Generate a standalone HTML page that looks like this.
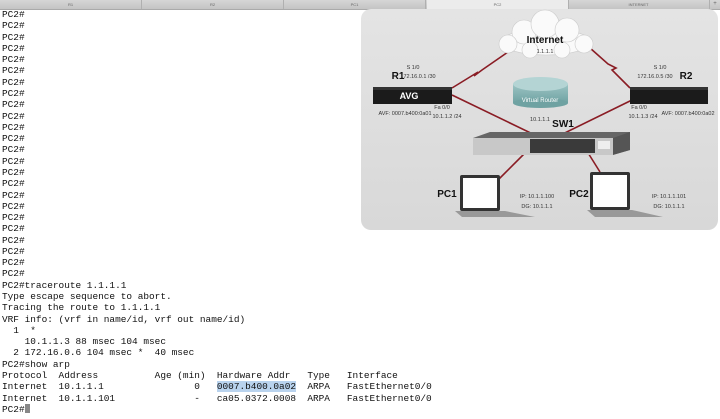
<!DOCTYPE html>
<html><head><meta charset="utf-8"><style>
body{margin:0;width:720px;height:419px;background:#fff;overflow:hidden;position:relative;font-family:"Liberation Sans",sans-serif}
#tabs{position:absolute;left:0;top:0;width:720px;height:9px;background:linear-gradient(#d6d6d6,#c4c4c4);border-bottom:1px solid #aaa}
.tab{position:absolute;top:0;height:9px;width:142px;font-size:4px;color:#666;text-align:center;line-height:9px;border-right:1px solid #b0b0b0;box-sizing:border-box}
#term{position:absolute;left:2px;top:9px;font-family:"Liberation Mono",monospace;font-size:9.43px;line-height:11.28px;white-space:pre;color:#111;margin:0}
.hl{background:#b9d3ee}
.cur{display:inline-block;width:5px;height:9px;background:#888;vertical-align:-1px}
</style></head><body>
<div id="tabs">
<div class="tab" style="left:0">R1</div>
<div class="tab" style="left:142px">R2</div>
<div class="tab" style="left:284px">PC1</div>
<div class="tab" style="left:427px;background:#ececec">PC2</div>
<div class="tab" style="left:568px">INTERNET</div>
<div class="tab" style="left:710px;width:10px;font-size:6px;border:none">+</div>
</div>
<pre id="term">PC2#
PC2#
PC2#
PC2#
PC2#
PC2#
PC2#
PC2#
PC2#
PC2#
PC2#
PC2#
PC2#
PC2#
PC2#
PC2#
PC2#
PC2#
PC2#
PC2#
PC2#
PC2#
PC2#
PC2#
PC2#traceroute 1.1.1.1
Type escape sequence to abort.
Tracing the route to 1.1.1.1
VRF info: (vrf in name/id, vrf out name/id)
  1  *
    10.1.1.3 88 msec 104 msec
  2 172.16.0.6 104 msec *  40 msec
PC2#show arp
Protocol  Address          Age (min)  Hardware Addr   Type   Interface
Internet  10.1.1.1                0   <span class="hl">0007.b400.0a02</span>  ARPA   FastEthernet0/0
Internet  10.1.1.101              -   ca05.0372.0008  ARPA   FastEthernet0/0
PC2#<span class="cur"></span></pre>
<svg style="position:absolute;left:0;top:0" width="720" height="419">
<defs><linearGradient id="bg" x1="0" y1="0" x2="0" y2="1"><stop offset="0" stop-color="#e4e4e4"/><stop offset="1" stop-color="#d8d8d8"/></linearGradient>
<linearGradient id="vr" x1="0" y1="0" x2="0" y2="1"><stop offset="0" stop-color="#9cc4c4"/><stop offset="1" stop-color="#6fa2a2"/></linearGradient></defs>
<rect x="361" y="9" width="357" height="221" rx="10" fill="url(#bg)"/>
<g stroke="#8a1c24" stroke-width="1.6" fill="none">
<polyline points="452,88 478,72 474,76 482,70 508,52"/>
<polyline points="630,88 612,70 616,68 608,64 590,48"/>
<line x1="452" y1="95" x2="570" y2="152"/>
<line x1="632" y1="100" x2="530" y2="150"/>
<line x1="530" y1="148" x2="497" y2="181"/>
<line x1="585" y1="148" x2="600" y2="172"/>
</g>
<g fill="#fafafa" stroke="#ccc" stroke-width="0.6">
<ellipse cx="546" cy="42" rx="45" ry="13"/>
<circle cx="524" cy="32" r="12"/><circle cx="545" cy="24" r="14"/><circle cx="567" cy="30" r="12"/>
<circle cx="508" cy="44" r="9"/><circle cx="584" cy="44" r="9"/><circle cx="530" cy="50" r="8"/><circle cx="562" cy="50" r="8"/>
</g>
<text x="545" y="43" font-size="10" font-weight="bold" text-anchor="middle" fill="#111">Internet</text>
<text x="545" y="53" font-size="5.5" text-anchor="middle" fill="#333">1.1.1.1</text>
<rect x="373" y="87" width="79" height="17" fill="#1b1b1b"/>
<rect x="373" y="87" width="79" height="3" fill="#333"/>
<text x="409" y="99" font-size="9" font-weight="bold" fill="#fff" text-anchor="middle">AVG</text>
<rect x="630" y="87" width="78" height="17" fill="#1b1b1b"/>
<rect x="630" y="87" width="78" height="3" fill="#333"/>
<text x="398" y="79" font-size="10" font-weight="bold" text-anchor="middle" fill="#111">R1</text>
<text x="686" y="79" font-size="10" font-weight="bold" text-anchor="middle" fill="#111">R2</text>
<g font-size="5.5" fill="#333" text-anchor="middle">
<text x="413" y="69">S 1/0</text><text x="418" y="78">172.16.0.1 /30</text>
<text x="660" y="69">S 1/0</text><text x="655" y="78">172.16.0.5 /30</text>
<text x="405" y="115">AVF: 0007.b400:0a01</text>
<text x="442" y="109">Fa 0/0</text><text x="447" y="118">10.1.1.2 /24</text>
<text x="688" y="115">AVF: 0007.b400:0a02</text>
<text x="639" y="109">Fa 0/0</text><text x="643" y="118">10.1.1.3 /24</text>
<text x="540" y="121">10.1.1.1</text>
<text x="537" y="198">IP: 10.1.1.100</text><text x="537" y="208">DG: 10.1.1.1</text>
<text x="669" y="198">IP: 10.1.1.101</text><text x="669" y="208">DG: 10.1.1.1</text>
</g>
<rect x="513" y="84" width="55" height="19" fill="url(#vr)"/>
<ellipse cx="540.5" cy="103" rx="27.5" ry="5" fill="#6fa2a2"/>
<ellipse cx="540.5" cy="84" rx="27.5" ry="7" fill="#b4d4d4"/>
<text x="540" y="102" font-size="6" fill="#fff" text-anchor="middle">Virtual Router</text>
<text x="563" y="127" font-size="10" font-weight="bold" text-anchor="middle" fill="#111">SW1</text>
<polygon points="473,138 490,132 630,132 630,150 612,155 473,155" fill="#666"/>
<rect x="473" y="138" width="140" height="17" fill="#c8c8c8"/>
<polygon points="613,138 630,132 630,150 613,155" fill="#555"/>
<rect x="530" y="139" width="65" height="14" fill="#3a3a3a"/>
<rect x="598" y="141" width="12" height="8" fill="#eee"/>
<rect x="460" y="175" width="40" height="36" rx="2" fill="#333"/>
<rect x="463" y="178" width="34" height="30" fill="#fff"/>
<polygon points="455,211 505,211 535,217 462,217" fill="#999"/>
<rect x="590" y="172" width="40" height="38" rx="2" fill="#333"/>
<rect x="593" y="175" width="34" height="32" fill="#fff"/>
<polygon points="587,210 632,210 663,217 595,217" fill="#999"/>
<text x="447" y="197" font-size="10" font-weight="bold" text-anchor="middle" fill="#111">PC1</text>
<text x="579" y="197" font-size="10" font-weight="bold" text-anchor="middle" fill="#111">PC2</text>
</svg>
</body></html>
